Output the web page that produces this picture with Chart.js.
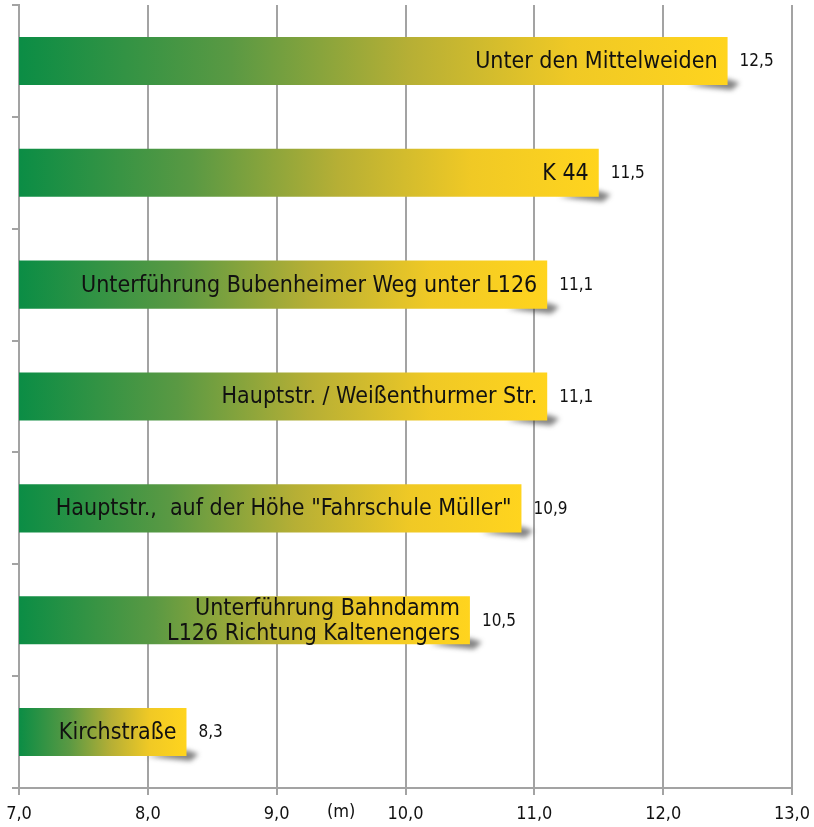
<!DOCTYPE html>
<html>
<head>
<meta charset="utf-8">
<script src="https://cdn.jsdelivr.net/npm/chart.js@4/dist/chart.umd.min.js"></script>
<style>
  html, body { margin: 0; padding: 0; background: #fff; }
  #wrap { width: 814px; height: 827px; position: relative; }
</style>
</head>
<body>
<div id="wrap"><canvas id="c" width="814" height="827"></canvas></div>
<script>
const categories = [
  ["Unter den Mittelweiden"],
  ["K 44"],
  ["Unterführung Bubenheimer Weg unter L126"],
  ["Hauptstr. / Weißenthurmer Str."],
  ["Hauptstr.,  auf der Höhe \"Fahrschule Müller\""],
  ["Unterführung Bahndamm", "L126 Richtung Kaltenengers"],
  ["Kirchstraße"]
];
const values = [12.5, 11.5, 11.1, 11.1, 10.9, 10.5, 8.3];
const xTicks = [7, 8, 9, 10, 11, 12, 13];
const unitLabel = "(m)";

const FONT = "'DejaVu Sans Condensed', 'Liberation Sans Narrow', sans-serif";
const fmt = v => v.toFixed(1).replace('.', ',');

function barGradient(ctx) {
  const chart = ctx.chart;
  if (!chart.chartArea || ctx.type !== 'data') return '#8aa53a';
  const xs = chart.scales.x;
  const x0 = xs.getPixelForValue(xs.min);
  const x1 = xs.getPixelForValue(ctx.raw);
  const g = chart.ctx.createLinearGradient(x0, 0, x1, 0);
  g.addColorStop(0, '#0b8d45');
  g.addColorStop(0.3, '#5a9943');
  g.addColorStop(0.55, '#b6af35');
  g.addColorStop(0.78, '#f0c925');
  g.addColorStop(1, '#ffd41e');
  return g;
}

const shadowPlugin = {
  id: 'barShadow',
  beforeDatasetsDraw(chart) {
    const ctx = chart.ctx;
    const meta = chart.getDatasetMeta(0);
    ctx.save();
    meta.data.forEach(bar => {
      const xEnd = bar.x, yB = bar.y + bar.height / 2;
      ctx.filter = 'blur(2.5px)';
      ctx.fillStyle = 'rgba(50,50,50,0.6)';
      ctx.beginPath();
      ctx.moveTo(xEnd - 40, yB);
      ctx.lineTo(xEnd, yB - 6);
      ctx.lineTo(xEnd + 12, yB - 2);
      ctx.lineTo(xEnd + 4, yB + 5);
      ctx.lineTo(xEnd - 25, yB + 2);
      ctx.closePath();
      ctx.fill();
    });
    ctx.restore();
  },
  afterDatasetsDraw(chart) {
    const ctx = chart.ctx;
    const meta = chart.getDatasetMeta(0);
    ctx.save();
    meta.data.forEach((bar, i) => {
      const lines = categories[i];
      ctx.fillStyle = '#111';
      ctx.textBaseline = 'middle';
      ctx.textAlign = 'right';
      ctx.font = '23px ' + FONT;
      const lh = 25;
      const y0 = bar.y - (lines.length - 1) * lh / 2 + 1;
      lines.forEach((t, k) => ctx.fillText(t, bar.x - 10, y0 + k * lh));
      ctx.textAlign = 'left';
      ctx.font = '17px ' + FONT;
      ctx.fillText(fmt(values[i]), bar.x + 12, bar.y + 1);
    });
    const xs = chart.scales.x;
    ctx.textAlign = 'center';
    ctx.textBaseline = 'middle';
    ctx.font = '18px ' + FONT;
    ctx.fillStyle = '#111';
    ctx.fillText(unitLabel, xs.getPixelForValue(9.5), 812);
    ctx.restore();
  }
};

new Chart(document.getElementById('c'), {
  type: 'bar',
  data: {
    labels: categories.map(c => c.join(' ')),
    datasets: [{
      data: values,
      backgroundColor: barGradient,
      borderWidth: 0,
      categoryPercentage: 1,
      barPercentage: 0.43
    }]
  },
  options: {
    indexAxis: 'y',
    responsive: false,
    animation: false,
    devicePixelRatio: 1,
    layout: { padding: { top: 5, left: 12, right: 22, bottom: 0 } },
    plugins: { legend: { display: false }, tooltip: { enabled: false } },
    scales: {
      x: {
        min: 7, max: 13,
        afterBuildTicks: s => { s.ticks = xTicks.map(v => ({ value: v })); },
        afterFit: s => { s.height = 39; s.paddingLeft = 0; s.paddingRight = 0; },
        ticks: {
          callback: v => fmt(v),
          color: '#111',
          font: { family: FONT, size: 18 },
          padding: 9,
          maxRotation: 0
        },
        grid: { color: '#a3a3a3', lineWidth: 2, tickLength: 7, drawTicks: true },
        border: { color: '#a3a3a3', width: 2 }
      },
      y: {
        afterFit: s => { s.width = 7; s.paddingTop = 0; s.paddingBottom = 0; },
        ticks: { display: false },
        grid: { drawOnChartArea: false, color: '#a3a3a3', lineWidth: 2, tickLength: 7, offset: true },
        border: { color: '#a3a3a3', width: 2 }
      }
    }
  },
  plugins: [shadowPlugin]
});
</script>
</body>
</html>
